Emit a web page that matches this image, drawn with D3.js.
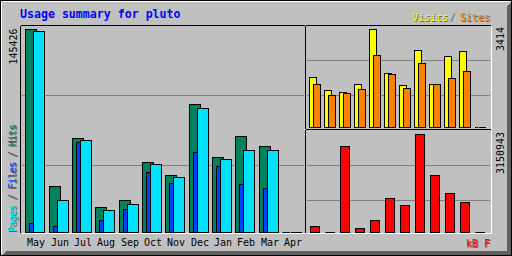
<!DOCTYPE html>
<html><head><meta charset="utf-8">
<script src="https://cdn.jsdelivr.net/npm/d3@7"></script>
<style>body{margin:0;background:#fff}svg{display:block}text{font-family:"DejaVu Sans Mono",monospace}</style>
</head><body><svg id="c" width="512" height="256"></svg>
<script>
const months = ["May","Jun","Jul","Aug","Sep","Oct","Nov","Dec","Jan","Feb","Mar","Apr"];
const hits   = [145426,32740,67120,17700,22710,49930,40620,91700,53510,68560,61390,0];
const files  = [6230,4080,64260,8600,16260,42770,34890,57100,47070,34170,31300,0];
const pages  = [144000,22710,65690,15550,19840,48500,39190,88830,52080,58530,58530,0];
const visits = [1731,1278,1219,1487,3414,1881,1453,2672,1487,2463,2637,0];
const sites  = [1487,1104,1184,1313,2508,1846,1348,2230,1487,1697,1940,0];
const kbytes = [183270,0,2755470,128610,376180,1083540,858470,3150943,1823050,1244300,954930,0];
const title = "Usage summary for pluto";
const maxHits = "145426", maxVisits = "3414", maxKb = "3150943";
const legendLeft = ["Pages","Files","Hits"];
const legendRight = ["Visits","Sites"];

const C = {grey:"#c0c0c0", dk:"#808080", hit:"#00805c", file:"#0040ff", page:"#00e0ff",
  visit:"#ffff00", site:"#ff8000", kb:"#ff0000", blue:"#0000ff", black:"#000", white:"#fff", shadow:"#606060"};

const svg = d3.select("#c");
svg.append("rect").attr("width",512).attr("height",256).attr("fill",C.grey);
function line(x1,y1,x2,y2,c){ svg.append("path").attr("d",`M${x1+.5},${y1+.5}L${x2+.5},${y2+.5}`).attr("stroke",c).attr("stroke-width",1).attr("fill","none").attr("shape-rendering","crispEdges"); }
// bevel
for(let i=1;i<5;i++){ line(i+1,255-i,511-i,255-i,C.shadow); line(511-i,i+1,511-i,255-i,C.shadow); }
line(1,1,509,1,C.white); line(1,1,1,253,C.white);
svg.append("rect").attr("x",.5).attr("y",.5).attr("width",511).attr("height",255).attr("fill","none").attr("stroke",C.black);

// panel frames
function frame(x1,y1,x2,y2){ line(x1,y1,x2,y1,C.black); line(x1,y1,x1,y2,C.black); line(x1+1,y2+1,x2+1,y2+1,C.white); line(x2+1,y1+1,x2+1,y2+1,C.white); }
frame(20,25,304,232);
frame(305,25,490,128);
frame(305,129,490,232);

// scales
const xMain = d3.scaleBand().domain(months).range([25,305]);
const xR = d3.scaleBand().domain(months).range([309,489]);
const yMain = d3.scaleLinear().domain([0,+maxHits]).range([232,29]);
const yVis = d3.scaleLinear().domain([0,+maxVisits]).range([127,29]);
const yKb = d3.scaleLinear().domain([0,+maxKb]).range([232,134]);
[95,165].forEach(y=>line(21,y,303,y,C.dk));
[60,95].forEach(y=>line(306,y,489,y,C.dk));
[165,200].forEach(y=>line(306,y,489,y,C.dk));

function bar(x1,x2,y1,y2,fill){
  svg.append("rect").attr("x",x1).attr("y",y1).attr("width",x2-x1+1).attr("height",y2-y1+1).attr("fill",fill);
  svg.append("path").attr("d",`M${x1+.5},${y1+.5}H${x2+.5}V${y2+.5}H${x1+.5}Z`).attr("fill","none").attr("stroke",C.black).attr("shape-rendering","crispEdges");
}
months.forEach((m,i)=>{
  const x = Math.ceil(xMain(m)-1e-6);
  bar(x,x+11,Math.round(yMain(hits[i])),232,C.hit);
  bar(x+4,x+15,Math.round(yMain(files[i])),232,C.file);
  bar(x+8,x+19,Math.round(yMain(pages[i])),232,C.page);
  svg.append("text").attr("x",x+2).attr("y",246).attr("font-size",10).attr("fill",C.black).text(m);
  const xr = Math.round(xR(m));
  bar(xr,xr+7,Math.round(yVis(visits[i])),127,C.visit);
  bar(xr+4,xr+11,Math.round(yVis(sites[i])),127,C.site);
  bar(xr+1,xr+10,Math.round(yKb(kbytes[i])),232,C.kb);
});

function txt(x,y,s,fill,opts={}){
  const rot = opts.rot ? " rotate(-90)" : "";
  const size = opts.size||10;
  if(opts.shadow){ svg.append("text").attr("transform",`translate(${x+1},${y+1})${rot}`).attr("font-size",size).attr("fill",C.shadow).text(s); }
  svg.append("text").attr("transform",`translate(${x},${y})${rot}`).attr("font-size",size).attr("font-weight",opts.bold?"bold":null).attr("fill",fill).text(s);
}
txt(20,18,title,C.blue,{size:11.6,bold:true});
txt(412,21,legendRight[0],C.visit,{shadow:true});
txt(450,21,"/",C.shadow);
txt(460,21,legendRight[1],C.site,{shadow:true});
txt(466,247,"kB F",C.kb,{shadow:true});
txt(17,64.5,maxHits,C.black,{rot:true});
txt(503.5,51,maxVisits,C.black,{rot:true});
txt(503.5,174,maxKb,C.black,{rot:true});

// left legend: one string, pieces coloured
(function(){
  const cols=[C.page,C.file,C.hit];
  [[C.shadow,1],[null,0]].forEach(([sc,o])=>{
    const t = svg.append("text").attr("transform",`translate(${16+o},${232+o}) rotate(-90)`)
      .attr("font-size",10).attr("textLength",108).attr("lengthAdjust","spacing");
    legendLeft.forEach((w,i)=>{
      if(i>0) t.append("tspan").attr("fill",sc||C.shadow).text(" / ");
      t.append("tspan").attr("fill",sc||cols[i]).text(w);
    });
  });
})();
</script></body></html>
